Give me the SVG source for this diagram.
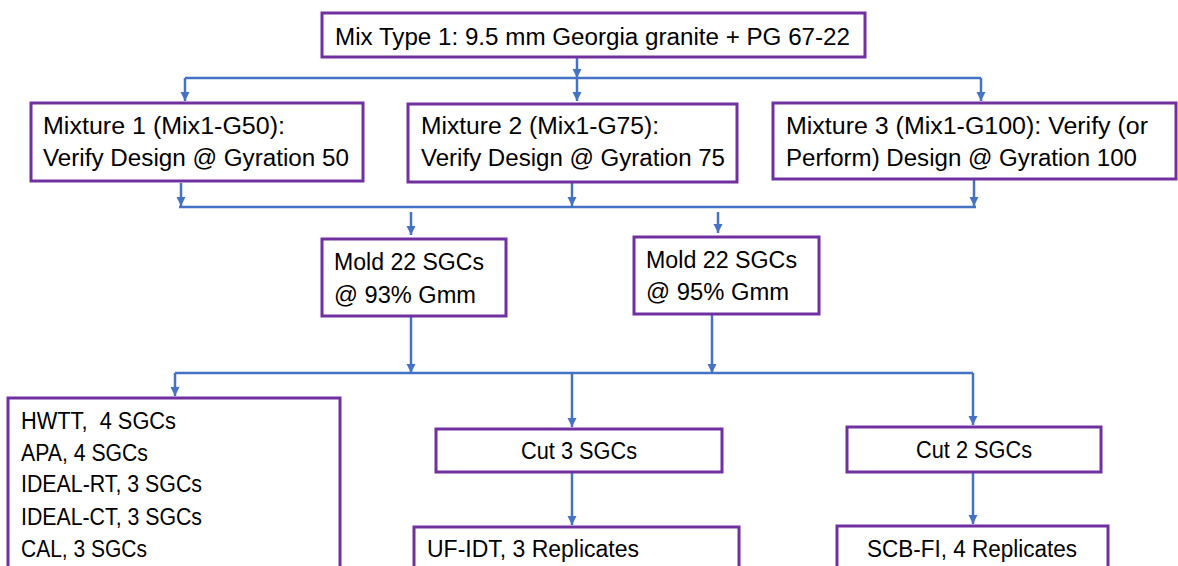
<svg xmlns="http://www.w3.org/2000/svg" width="1178" height="566" viewBox="0 0 1178 566">
<defs>
<marker id="ah" markerUnits="userSpaceOnUse" markerWidth="10" markerHeight="10" refX="9" refY="4.5" orient="auto">
<path d="M0,0 L9,4.5 L0,9 z" fill="#4472C4"/>
</marker>
<style>
.box{fill:#fff;stroke:#7030A0;stroke-width:3}
.t{font-family:"Liberation Sans",Arial,sans-serif;font-size:23.5px;fill:#000}
.c{fill:none;stroke:#4472C4;stroke-width:2.5}
.a{fill:none;stroke:#4472C4;stroke-width:2.5;marker-end:url(#ah)}
</style>
</defs>
<rect width="1178" height="566" fill="#fff"/>
<g id="connectors">
<line class="a" x1="577" y1="58" x2="577" y2="78"/>
<line class="c" x1="185" y1="78" x2="981" y2="78"/>
<line class="a" x1="185" y1="78" x2="185" y2="101"/>
<line class="a" x1="577" y1="78" x2="577" y2="101"/>
<line class="a" x1="981" y1="78" x2="981" y2="101"/>
<line class="a" x1="181" y1="183" x2="181" y2="206"/>
<line class="a" x1="572" y1="183" x2="572" y2="206"/>
<line class="a" x1="974" y1="180" x2="974" y2="206"/>
<line class="c" x1="179" y1="207" x2="976" y2="207"/>
<line class="a" x1="411" y1="212" x2="411" y2="235"/>
<line class="a" x1="718" y1="212" x2="718" y2="233"/>
<line class="a" x1="411" y1="317" x2="411" y2="373"/>
<line class="a" x1="712" y1="315" x2="712" y2="373"/>
<line class="c" x1="175" y1="373" x2="973" y2="373"/>
<line class="a" x1="175" y1="373" x2="175" y2="396"/>
<line class="a" x1="572" y1="373" x2="572" y2="427"/>
<line class="a" x1="973" y1="373" x2="973" y2="425"/>
<line class="a" x1="572" y1="473" x2="572" y2="525"/>
<line class="a" x1="973" y1="473" x2="973" y2="524"/>
</g>
<g id="n-top">
<rect class="box" x="322" y="13" width="543" height="44"/>
<text class="t" x="335" y="45" textLength="515" lengthAdjust="spacingAndGlyphs">Mix Type 1: 9.5 mm Georgia granite + PG 67-22</text>
</g>
<g id="n-mix1">
<rect class="box" x="31" y="103" width="332" height="78"/>
<text class="t" x="43" y="134" textLength="242" lengthAdjust="spacingAndGlyphs">Mixture 1 (Mix1-G50):</text>
<text class="t" x="43" y="166" textLength="306" lengthAdjust="spacingAndGlyphs">Verify Design @ Gyration 50</text>
</g>
<g id="n-mix2">
<rect class="box" x="408" y="104" width="329" height="78"/>
<text class="t" x="421" y="134" textLength="238" lengthAdjust="spacingAndGlyphs">Mixture 2 (Mix1-G75):</text>
<text class="t" x="421" y="166" textLength="304" lengthAdjust="spacingAndGlyphs">Verify Design @ Gyration 75</text>
</g>
<g id="n-mix3">
<rect class="box" x="773" y="103" width="403" height="76"/>
<text class="t" x="786" y="134" textLength="362" lengthAdjust="spacingAndGlyphs">Mixture 3 (Mix1-G100): Verify (or</text>
<text class="t" x="786" y="166" textLength="351" lengthAdjust="spacingAndGlyphs">Perform) Design @ Gyration 100</text>
</g>
<g id="n-mold93">
<rect class="box" x="322" y="239" width="184" height="77"/>
<text class="t" x="334" y="270" textLength="150" lengthAdjust="spacingAndGlyphs">Mold 22 SGCs</text>
<text class="t" x="334" y="303" textLength="142" lengthAdjust="spacingAndGlyphs">@ 93% Gmm</text>
</g>
<g id="n-mold95">
<rect class="box" x="634" y="237" width="185" height="77"/>
<text class="t" x="646" y="268" textLength="151" lengthAdjust="spacingAndGlyphs">Mold 22 SGCs</text>
<text class="t" x="646" y="300" textLength="143" lengthAdjust="spacingAndGlyphs">@ 95% Gmm</text>
</g>
<g id="n-tests">
<rect class="box" x="8" y="398" width="332" height="175"/>
<text class="t" x="21" y="429" textLength="155" lengthAdjust="spacingAndGlyphs" xml:space="preserve">HWTT,  4 SGCs</text>
<text class="t" x="21" y="461" textLength="127" lengthAdjust="spacingAndGlyphs">APA, 4 SGCs</text>
<text class="t" x="21" y="492" textLength="181" lengthAdjust="spacingAndGlyphs">IDEAL-RT, 3 SGCs</text>
<text class="t" x="21" y="525" textLength="181" lengthAdjust="spacingAndGlyphs">IDEAL-CT, 3 SGCs</text>
<text class="t" x="21" y="557" textLength="126" lengthAdjust="spacingAndGlyphs">CAL, 3 SGCs</text>
</g>
<g id="n-cut3">
<rect class="box" x="436" y="429" width="286" height="43"/>
<text class="t" x="521" y="459" textLength="116" lengthAdjust="spacingAndGlyphs">Cut 3 SGCs</text>
</g>
<g id="n-cut2">
<rect class="box" x="847" y="427" width="254" height="45"/>
<text class="t" x="916" y="458" textLength="116" lengthAdjust="spacingAndGlyphs">Cut 2 SGCs</text>
</g>
<g id="n-ufidt">
<rect class="box" x="414" y="527" width="325" height="46"/>
<text class="t" x="427" y="557" textLength="212" lengthAdjust="spacingAndGlyphs">UF-IDT, 3 Replicates</text>
</g>
<g id="n-scbfi">
<rect class="box" x="837" y="526" width="271" height="47"/>
<text class="t" x="867" y="557" textLength="210" lengthAdjust="spacingAndGlyphs">SCB-FI, 4 Replicates</text>
</g>
</svg>
